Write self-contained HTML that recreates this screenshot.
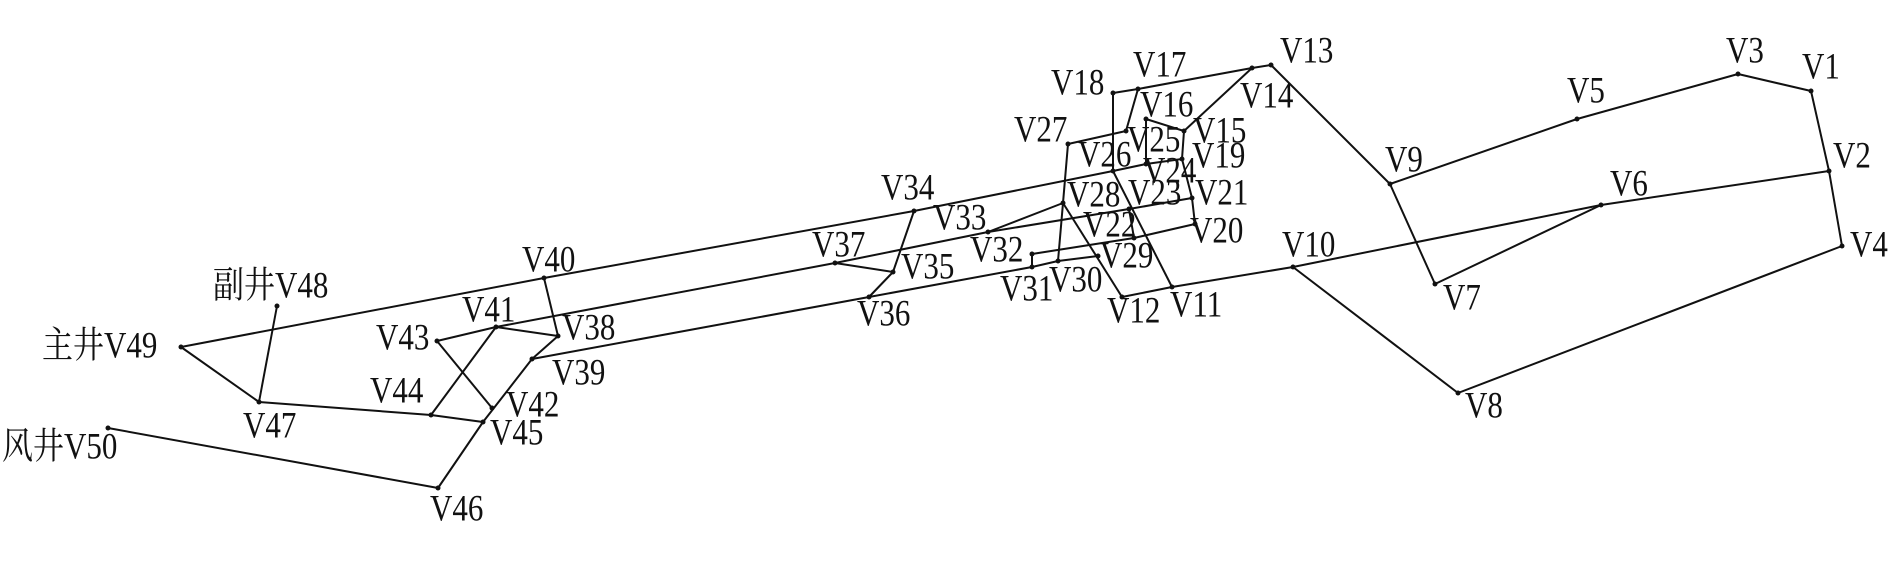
<!DOCTYPE html>
<html><head><meta charset="utf-8"><style>
html,body{margin:0;padding:0;background:#fff;}
svg{display:block;}
text{font-family:"Liberation Serif","Noto Serif CJK SC",serif;font-size:31px;fill:#111;transform-box:fill-box;transform-origin:0% 85%;transform:scale(1,1.2);}
</style></head><body>
<svg width="1890" height="572" viewBox="0 0 1890 572" xmlns="http://www.w3.org/2000/svg">
<g stroke="#111" stroke-width="2" fill="none" stroke-linejoin="round">
<polyline points="1271,65 1390,184 1577,119 1738,74 1811,91 1829,171 1842,246 1458,393 1293,267"/>
<polyline points="1390,184 1435,284 1601,205"/>
<polyline points="1122,297 1172,287 1293,267 1601,205 1829,171"/>
<polyline points="1113,93 1138,89 1252,68 1271,65"/>
<line x1="1252" y1="68" x2="1184" y2="131"/>
<line x1="1138" y1="89" x2="1126" y2="131"/>
<line x1="1113" y1="93" x2="1113" y2="171"/>
<polyline points="1146,164 1146,119 1184,131 1182,159 1192,198 1195,224"/>
<line x1="1068" y1="144" x2="1126" y2="131"/>
<polyline points="1068,144 1063,203 1058,261"/>
<line x1="1063" y1="203" x2="1122" y2="297"/>
<line x1="1113" y1="171" x2="1172" y2="287"/>
<line x1="1063" y1="203" x2="988" y2="232"/>
<line x1="1129" y1="209" x2="1134" y2="238"/>
<polyline points="1032,254 1134,238 1195,224"/>
<line x1="1032" y1="254" x2="1032" y2="267"/>
<polyline points="181,347 544,278 914,211 1113,171 1146,164 1182,159"/>
<polyline points="496,327 835,263 988,232 1129,209 1192,198"/>
<polyline points="532,359 869,297 1032,267 1058,261 1098,256"/>
<polyline points="914,211 893,272 869,297"/>
<line x1="835" y1="263" x2="893" y2="272"/>
<polyline points="181,347 259,402 431,415 483,422"/>
<line x1="277" y1="306" x2="259" y2="402"/>
<line x1="108" y1="428" x2="438" y2="488"/>
<polyline points="438,488 483,422 532,359 558,336"/>
<line x1="544" y1="278" x2="558" y2="336"/>
<polyline points="437,341 496,327 558,336"/>
<line x1="437" y1="341" x2="492" y2="408"/>
<line x1="431" y1="415" x2="496" y2="327"/>
</g>
<g fill="#111">
<circle cx="1271" cy="65" r="2.5"/><circle cx="1738" cy="74" r="2.5"/><circle cx="1811" cy="91" r="2.5"/><circle cx="1577" cy="119" r="2.5"/><circle cx="1390" cy="184" r="2.5"/><circle cx="1829" cy="171" r="2.5"/><circle cx="1601" cy="205" r="2.5"/><circle cx="1842" cy="246" r="2.5"/><circle cx="1293" cy="267" r="2.5"/><circle cx="1435" cy="284" r="2.5"/><circle cx="1458" cy="393" r="2.5"/>
<circle cx="1252" cy="68" r="2.5"/><circle cx="1113" cy="93" r="2.5"/><circle cx="1138" cy="89" r="2.5"/><circle cx="1146" cy="119" r="2.5"/><circle cx="1184" cy="131" r="2.5"/><circle cx="1126" cy="131" r="2.5"/><circle cx="1068" cy="144" r="2.5"/><circle cx="1113" cy="171" r="2.5"/><circle cx="1146" cy="164" r="2.5"/><circle cx="1182" cy="159" r="2.5"/><circle cx="1063" cy="203" r="2.5"/><circle cx="1129" cy="209" r="2.5"/><circle cx="1192" cy="198" r="2.5"/><circle cx="1134" cy="238" r="2.5"/><circle cx="1195" cy="224" r="2.5"/><circle cx="1098" cy="256" r="2.5"/><circle cx="1058" cy="261" r="2.5"/><circle cx="1032" cy="267" r="2.5"/><circle cx="1032" cy="254" r="2.5"/><circle cx="1122" cy="297" r="2.5"/><circle cx="1172" cy="287" r="2.5"/>
<circle cx="914" cy="211" r="2.5"/><circle cx="988" cy="232" r="2.5"/><circle cx="835" cy="263" r="2.5"/><circle cx="893" cy="272" r="2.5"/><circle cx="869" cy="297" r="2.5"/>
<circle cx="181" cy="347" r="2.5"/><circle cx="277" cy="306" r="2.5"/><circle cx="259" cy="402" r="2.5"/><circle cx="544" cy="278" r="2.5"/><circle cx="496" cy="327" r="2.5"/><circle cx="558" cy="336" r="2.5"/><circle cx="437" cy="341" r="2.5"/><circle cx="532" cy="359" r="2.5"/><circle cx="431" cy="415" r="2.5"/><circle cx="492" cy="408" r="2.5"/><circle cx="483" cy="422" r="2.5"/><circle cx="108" cy="428" r="2.5"/><circle cx="438" cy="488" r="2.5"/>
</g>
<g>
<text x="1280" y="63">V13</text><text x="1726" y="63">V3</text><text x="1802" y="79">V1</text><text x="1567" y="103">V5</text><text x="1385" y="172">V9</text><text x="1833" y="168">V2</text><text x="1610" y="196">V6</text><text x="1850" y="257">V4</text><text x="1282" y="257">V10</text><text x="1443" y="310">V7</text><text x="1465" y="418">V8</text>
<text x="1133" y="77">V17</text><text x="1051" y="95">V18</text><text x="1140" y="117">V16</text><text x="1240" y="108">V14</text><text x="1193" y="143">V15</text><text x="1014" y="142">V27</text><text x="1127" y="152">V25</text><text x="1078" y="167">V26</text><text x="1192" y="168">V19</text><text x="1143" y="183">V24</text><text x="1067" y="207">V28</text><text x="1128" y="205">V23</text><text x="1195" y="205">V21</text><text x="1083" y="237">V22</text><text x="1190" y="243">V20</text><text x="1100" y="268">V29</text><text x="1049" y="292">V30</text><text x="1000" y="301">V31</text><text x="970" y="262">V32</text><text x="1107" y="323">V12</text><text x="1170" y="317">V11</text>
<text x="881" y="200">V34</text><text x="933" y="230">V33</text><text x="812" y="257">V37</text><text x="901" y="279">V35</text><text x="857" y="326">V36</text>
<text x="213" y="298">副井V48</text><text x="42" y="358">主井V49</text><text x="2" y="459">风井V50</text><text x="522" y="272">V40</text><text x="462" y="322">V41</text><text x="376" y="350">V43</text><text x="562" y="340">V38</text><text x="552" y="385">V39</text><text x="370" y="403">V44</text><text x="506" y="417">V42</text><text x="490" y="445">V45</text><text x="243" y="438">V47</text><text x="430" y="521">V46</text>
</g>
</svg>
</body></html>
